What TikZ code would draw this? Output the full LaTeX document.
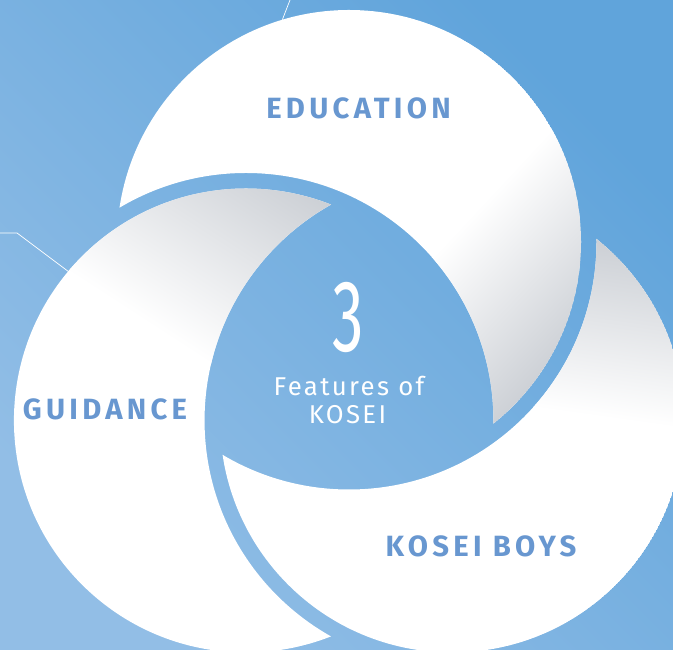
\documentclass[tikz,border=0pt]{standalone}
\usepackage{fontspec}
\usepackage{xcolor}
\usepackage{tikz}
\usetikzlibrary{calc}
\usetikzlibrary{positioning}

\newfontfamily\dinfont{Fira Sans}
\newfontfamily\ringfont[LetterSpace=14.6]{Fira Sans}
\newfontfamily\featfont[LetterSpace=9]{Fira Sans}

\definecolor{skytop}{RGB}{96,164,219}
\definecolor{skybottom}{RGB}{146,190,230}
\definecolor{labelblue}{RGB}{104,151,208}
\definecolor{fadegray}{RGB}{199,203,209}

\tikzset{
  ringlabel/.style={anchor=base, inner sep=0pt, text=labelblue, font=\ringfont\bfseries\fontsize{25}{29}\selectfont},
  centertext/.style={anchor=base, inner sep=0pt, text=white, font=\featfont\fontsize{22}{26}\selectfont},
  pointer/.style={draw=white, line width=0.6pt},
}

\begin{document}
\begin{tikzpicture}[x=0.03cm, y=0.03cm]
\useasboundingbox (0, 0) rectangle (673, 650);
\clip (0, 0) rectangle (673, 650);
\shade [top color=skytop, bottom color=skybottom, shading angle=-45] (0, 0) rectangle (673, 650);

% centres of the three rings
\coordinate (O) at (349, 289);
\coordinate (Ctop) at ($(O) + (90:119)$);
\coordinate (Cleft) at ($(O) + (210:119)$);
\coordinate (Cright) at ($(O) + (330:119)$);

% each ring is cut by the blue rim of the next one
\foreach \ring/\cutring/\tip/\spin/\fade in {Ctop/Cleft/{497,227}/-133/161, Cleft/Cright/{328,448}/-33/200, Cright/Ctop/{597,407}/-8/172} {
  \begin{scope}[even odd rule]
    \clip (\ring) circle (232);
    \clip (-10, -10) -- (-10, 660) -- (683, 660) -- (683, -10) -- cycle (\cutring) circle (247.5);
    \fill [white] (\ring) circle (232);
    \begin{scope}[transform canvas={rotate around={\spin:(\tip)}}]
      \shade [bottom color=white, top color=fadegray] ($(\tip) + (-400, -\fade)$) rectangle ($(\tip) + (400, 20)$);
    \end{scope}
  \end{scope}
}

% thin pointers
\coordinate (topend) at (290, 650);
\coordinate (topedge) at ($(Ctop) + (106.7:232)$);
\coordinate (leftend) at (0, 417);
\coordinate (leftbend) at (17, 417);
\coordinate (leftedge) at ($(Cleft) + (140:232)$);
\draw [pointer] (topend) -- (topedge);
\draw [pointer] (leftend) -- (leftbend) -- (leftedge);

\node [ringlabel] (edu) at (358.5, 531) {EDUCATION};
\node [ringlabel] (guide) at (105, 230) {GUIDANCE};
\node [ringlabel] (boys) at (481, 93) {KOSEI BOYS};

\node [anchor=base, inner sep=0pt, text=white] (three) at (348, 298) {\scalebox{0.62}[1]{\dinfont\fontsize{87}{90}\selectfont 3}};
\node [centertext] (feat) at (349, 254) {Features of};
\node [centertext] (kosei) at (347.5, 226) {KOSEI};
\end{tikzpicture}
\end{document}
